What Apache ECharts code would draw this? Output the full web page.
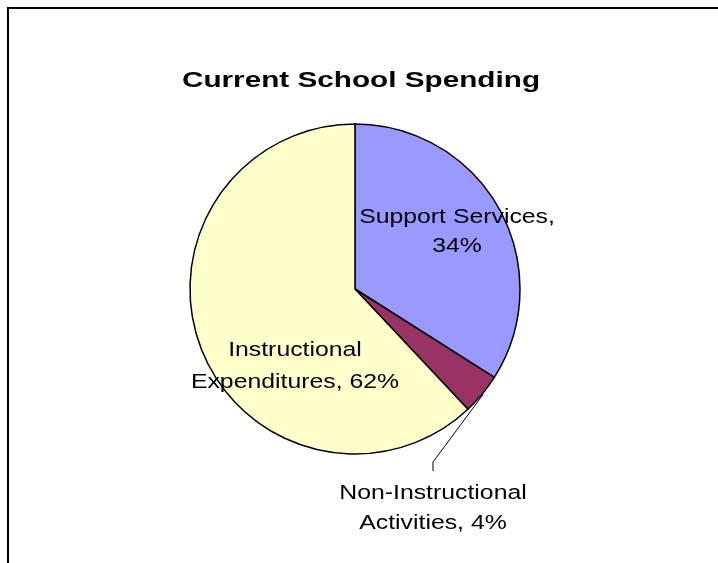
<!DOCTYPE html>
<html>
<head>
<meta charset="utf-8">
<script src="https://cdn.jsdelivr.net/npm/echarts@6/dist/echarts.min.js"></script>
<style>
  html, body { margin: 0; padding: 0; background: #fff; }
  #chart { width: 718px; height: 563px; }
</style>
</head>
<body>
<div id="chart"></div>
<script>
// Spending shares, in percent, clockwise from 12 o'clock
const categories = ['Support Services', 'Non-Instructional Activities', 'Instructional Expenditures'];
const values = [34, 4, 62];
const sliceColors = ['#9999FF', '#993366', '#FFFFCC'];
const titleText = 'Current School Spending';

// Pie geometry
const CX = 355, CY = 289, R = 165;

// Label placement: block centre, words before the line break, line spacing
const labelLayout = [
  { x: 457, y: 232, breakAfter: 2, lineHeight: 29 },
  { x: 433, y: 508, breakAfter: 1, lineHeight: 30 },
  { x: 295, y: 366, breakAfter: 1, lineHeight: 32 }
];
const FONT = '"Liberation Sans", Arial, Helvetica, sans-serif';
const LABEL_SIZE = 20, LABEL_STRETCH = 1.24;
const TITLE_SIZE = 22, TITLE_STRETCH = 1.35;

function labelText(i) {
  const words = (categories[i] + ', ' + values[i] + '%').split(' ');
  const k = labelLayout[i].breakAfter;
  return words.slice(0, k).join(' ') + '\n' + words.slice(k).join(' ');
}

// Leader line for the thin slice starts at its mid-angle on the rim
const total = values.reduce((a, b) => a + b, 0);
function midAnglePoint(i, r) {
  let cum = 0;
  for (let j = 0; j < i; j++) cum += values[j];
  const a = (cum + values[i] / 2) / total * 2 * Math.PI;
  return [CX + r * Math.sin(a), CY - r * Math.cos(a)];
}
const leaderStart = midAnglePoint(1, R + 1);

const chart = echarts.init(document.getElementById('chart'), null, { renderer: 'canvas' });

const graphics = [
  {
    type: 'rect',
    shape: { x: 8, y: 8, width: 760, height: 620 },
    style: { fill: 'none', stroke: '#000', lineWidth: 2 },
    silent: true
  },
  {
    type: 'text',
    x: 361, y: 81,
    scaleX: TITLE_STRETCH,
    style: {
      text: titleText,
      font: 'bold ' + TITLE_SIZE + 'px ' + FONT,
      fill: '#000',
      textAlign: 'center', textVerticalAlign: 'middle',
      align: 'center', verticalAlign: 'middle'
    },
    silent: true
  },
  {
    type: 'polyline',
    shape: { points: [leaderStart, [433, 462], [433, 471]] },
    style: { stroke: '#000', lineWidth: 1, fill: null },
    silent: true
  }
];

categories.forEach((c, i) => {
  const L = labelLayout[i];
  graphics.push({
    type: 'text',
    x: L.x, y: L.y,
    scaleX: LABEL_STRETCH,
    z: 100,
    style: {
      text: labelText(i),
      font: LABEL_SIZE + 'px ' + FONT,
      lineHeight: L.lineHeight,
      fill: '#000',
      textAlign: 'center', textVerticalAlign: 'middle',
      align: 'center', verticalAlign: 'middle'
    },
    silent: true
  });
});

chart.setOption({
  animation: false,
  backgroundColor: '#fff',
  series: [{
    type: 'pie',
    center: [CX, CY],
    radius: R,
    startAngle: 90,
    clockwise: true,
    silent: true,
    label: { show: false },
    labelLine: { show: false },
    itemStyle: { borderColor: '#000', borderWidth: 1.5 },
    data: categories.map((name, i) => ({
      name: name,
      value: values[i],
      itemStyle: { color: sliceColors[i] }
    }))
  }],
  graphic: graphics
});
</script>
</body>
</html>
